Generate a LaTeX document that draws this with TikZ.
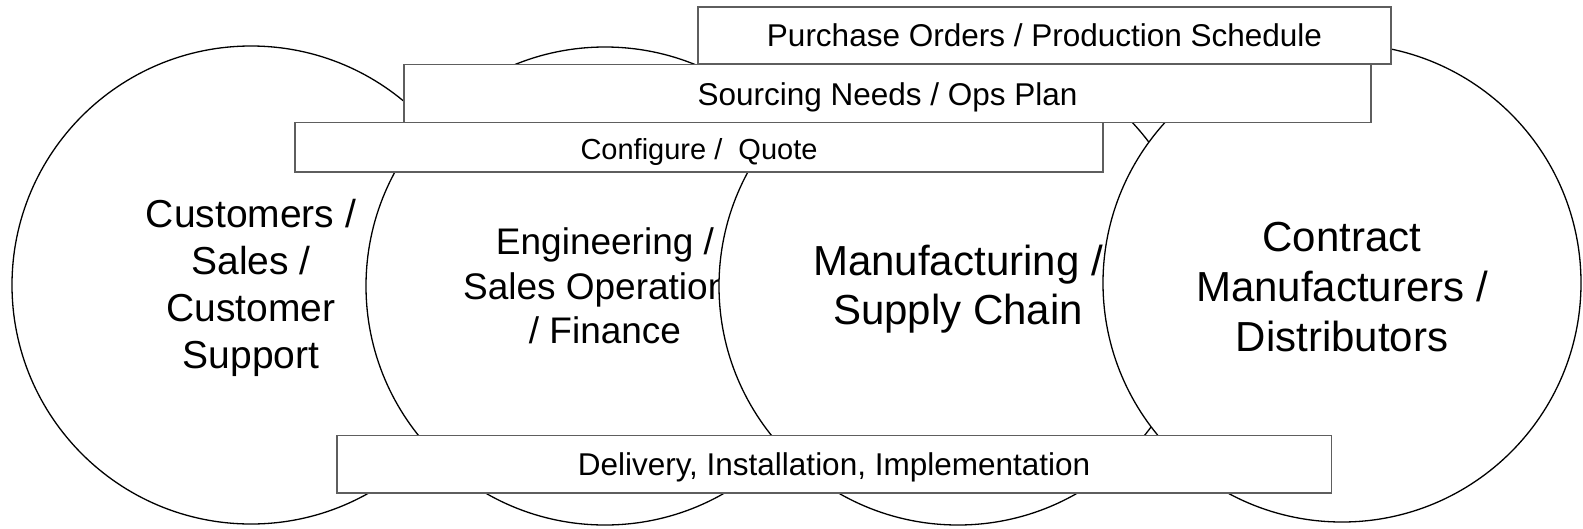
\documentclass[tikz,border=0pt]{standalone}
\usepackage{fontspec}
\setmainfont{Liberation Sans}
\definecolor{boxline}{HTML}{5E5E5E}
\newcommand{\lowtext}[2]{\raisebox{-#1}[\height][\depth]{\begin{tabular}{@{}c@{}}#2\end{tabular}}}
\tikzset{
  area/.style={circle, draw=black, line width=1.3pt, fill=white, minimum size=478pt, inner sep=0pt, align=center},
  band/.style={rectangle, draw=boxline, line width=1.5pt, fill=white, inner sep=0pt, align=center, text depth=0pt, font=\fontsize{31.5}{38}\selectfont},
}
\begin{document}
\begin{tikzpicture}[x=1pt,y=-1pt]
\useasboundingbox (0,0) rectangle (1583,528);
\node[area, font=\fontsize{39}{47}\selectfont] (cust) at (251,285) {\lowtext{4pt}{Customers /\\Sales /\\Customer\\Support}};
\node[area, font=\fontsize{37}{44.5}\selectfont] (eng) at (605,286) {\lowtext{4.5pt}{Engineering /\\Sales Operations\\/ Finance}};
\node[area, font=\fontsize{42}{49}\selectfont] (mfg) at (958,286) {\lowtext{4.5pt}{Manufacturing /\\Supply Chain}};
\node[area, font=\fontsize{42}{50}\selectfont] (cm) at (1342,283) {\lowtext{8.5pt}{Contract\\Manufacturers /\\Distributors}};
\node[band, minimum width=808pt, minimum height=49.5pt, text height=25pt, font=\fontsize{29}{35}\selectfont] (cfg) at (699,147.3) {Configure /\ \ Quote};
\node[band, minimum width=967pt, minimum height=58pt, text height=24pt] (src) at (887.5,93.3) {Sourcing Needs / Ops Plan};
\node[band, minimum width=693pt, minimum height=57pt, text height=22.5pt] (po) at (1044.5,35.5) {Purchase Orders / Production Schedule};
\node[band, minimum width=994.5pt, minimum height=57.5pt, text height=22pt] (del) at (834,464) {Delivery, Installation, Implementation};
\end{tikzpicture}
\end{document}
